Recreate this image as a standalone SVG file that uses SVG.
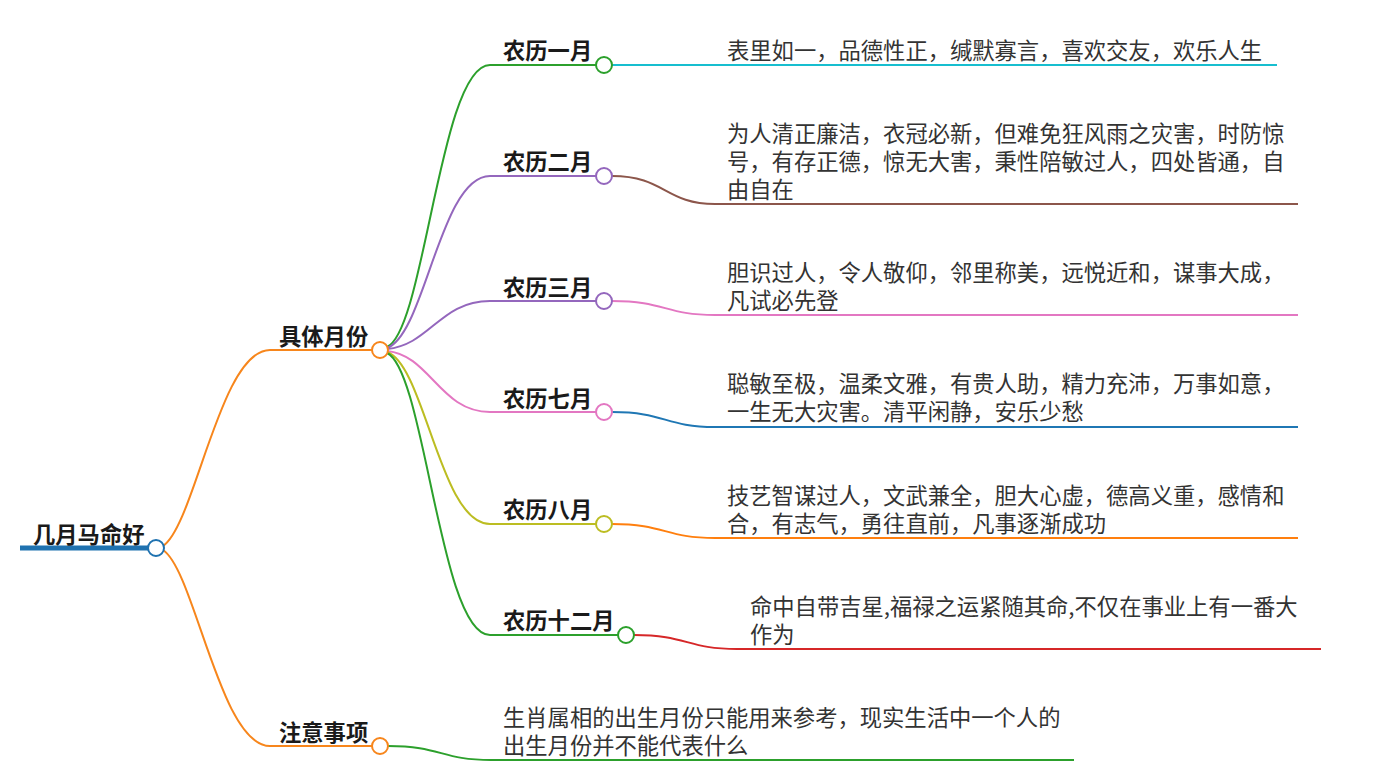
<svg xmlns="http://www.w3.org/2000/svg" width="1375" height="780" viewBox="0 0 1375 780">
<style>
.lbl{font-family:"Noto Sans CJK SC","Noto Sans",sans-serif;font-weight:bold;font-size:22.3px;fill:#1a1a1a}
.txt{font-family:"Noto Sans CJK SC","Noto Sans",sans-serif;font-size:22.3px;fill:#333}
.c{fill:none;stroke-width:2}
.dot{fill:#fff;stroke-width:2}
</style>
<rect width="1375" height="780" fill="#fff"/>
<g id="connectors">
<path class="c" stroke="#f7861c" d="M163,546 C195,525 220,350 270,350 L372,350"/>
<path class="c" stroke="#f7861c" d="M163,550 C195,571 220,746 270,746 L372,746"/>
<path class="c" stroke="#2ca02c" d="M387,347 C425,330 440,65 490,65 L596,65"/>
<path class="c" stroke="#9467bd" d="M387,348 C425,335 440,176 490,176 L596,176"/>
<path class="c" stroke="#9467bd" d="M387,349 C430,345 440,301 490,301 L596,301"/>
<path class="c" stroke="#e377c2" d="M387,351 C430,355 440,412 490,412 L596,412"/>
<path class="c" stroke="#bcbd22" d="M387,352 C425,365 440,524 490,524 L596,524"/>
<path class="c" stroke="#2ca02c" d="M387,353 C425,370 440,635 490,635 L618,635"/>
<path class="c" stroke="#17becf" d="M612,65 L1277,65"/>
<path class="c" stroke="#8c564b" d="M612,176 C665,176 665,204 715,204 L1298,204"/>
<path class="c" stroke="#e377c2" d="M612,301 C665,301 665,315 715,315 L1298,315"/>
<path class="c" stroke="#1f77b4" d="M612,412 C665,412 665,427 715,427 L1298,427"/>
<path class="c" stroke="#ff7f0e" d="M612,524 C665,524 665,538 715,538 L1298,538"/>
<path class="c" stroke="#d62728" d="M634,635 C687,635 687,649 737,649 L1321,649"/>
<path class="c" stroke="#2ca02c" d="M388,746 C441,746 441,760 491,760 L1074,760"/>
</g>
<g id="root">
<line x1="20" y1="548" x2="148" y2="548" stroke="#1f72b0" stroke-width="5"/>
<circle class="dot" cx="156" cy="548" r="8" stroke="#1f72b0"/>
<text class="lbl" x="33" y="543">几月马命好</text>
</g>
<g id="n-months">
<circle class="dot" cx="380" cy="350" r="8" stroke="#f7861c"/>
<text class="lbl" x="279" y="345">具体月份</text>
</g>
<g id="n-note">
<circle class="dot" cx="380" cy="746" r="8" stroke="#f7861c"/>
<text class="lbl" x="279" y="741">注意事项</text>
<text class="txt" x="503" y="726">生肖属相的出生月份只能用来参考，现实生活中一个人的<tspan x="503" dy="28">出生月份并不能代表什么</tspan></text>
</g>
<g id="m1">
<circle class="dot" cx="604" cy="65" r="8" stroke="#2ca02c"/>
<text class="lbl" x="503" y="59">农历一月</text>
<text class="txt" x="727" y="59">表里如一，品德性正，缄默寡言，喜欢交友，欢乐人生</text>
</g>
<g id="m2">
<circle class="dot" cx="604" cy="176" r="8" stroke="#9467bd"/>
<text class="lbl" x="503" y="170">农历二月</text>
<text class="txt" x="727" y="142">为人清正廉洁，衣冠必新，但难免狂风雨之灾害，时防惊<tspan x="727" dy="28">号，有存正德，惊无大害，秉性陪敏过人，四处皆通，自</tspan><tspan x="727" dy="28">由自在</tspan></text>
</g>
<g id="m3">
<circle class="dot" cx="604" cy="301" r="8" stroke="#9467bd"/>
<text class="lbl" x="503" y="296">农历三月</text>
<text class="txt" x="727" y="281">胆识过人，令人敬仰，邻里称美，远悦近和，谋事大成，<tspan x="727" dy="28">凡试必先登</tspan></text>
</g>
<g id="m7">
<circle class="dot" cx="604" cy="412" r="8" stroke="#e377c2"/>
<text class="lbl" x="503" y="407">农历七月</text>
<text class="txt" x="727" y="392">聪敏至极，温柔文雅，有贵人助，精力充沛，万事如意，<tspan x="727" dy="28">一生无大灾害。清平闲静，安乐少愁</tspan></text>
</g>
<g id="m8">
<circle class="dot" cx="604" cy="524" r="8" stroke="#bcbd22"/>
<text class="lbl" x="503" y="518">农历八月</text>
<text class="txt" x="727" y="504">技艺智谋过人，文武兼全，胆大心虚，德高义重，感情和<tspan x="727" dy="28">合，有志气，勇往直前，凡事逐渐成功</tspan></text>
</g>
<g id="m12">
<circle class="dot" cx="626" cy="635" r="8" stroke="#2ca02c"/>
<text class="lbl" x="503" y="629">农历十二月</text>
<text class="txt" x="750" y="615">命中自带吉星,福禄之运紧随其命,不仅在事业上有一番大<tspan x="750" dy="28">作为</tspan></text>
</g>
</svg>
